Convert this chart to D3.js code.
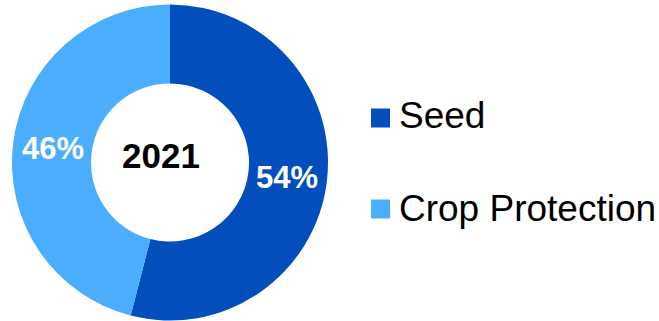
<!DOCTYPE html>
<html><head><meta charset="utf-8">
<script src="https://cdn.jsdelivr.net/npm/d3@7"></script>
<style>body{margin:0;background:#fff;}svg{display:block;font-family:"Liberation Sans",Arial,sans-serif;}</style>
</head><body>
<script>
const categories = ["Seed", "Crop Protection"];
const values = [54, 46];
const labels = ["54%", "46%"];
const colors = ["#024ebd", "#4aadfe"];
const centerLabel = "2021";

const W = 659, H = 321;
const cx = 170, cy = 162.5, R = 158, r = 79;
const svg = d3.select("body").append("svg").attr("width", W).attr("height", H);
const g = svg.append("g").attr("transform", `translate(${cx},${cy})`);
const pie = d3.pie().sort(null).value(d => d)(values);
const arc = d3.arc().innerRadius(r).outerRadius(R);
const color = d3.scaleOrdinal().domain(categories).range(colors);
g.selectAll("path").data(pie).join("path")
  .attr("d", arc).attr("fill", (d, i) => color(categories[i]));
const labelArc = d3.arc().innerRadius(118).outerRadius(118);
g.selectAll("text.pct").data(pie).join("text").attr("class", "pct")
  .attr("transform", d => { const [x, y] = labelArc.centroid(d); return `translate(${x},${y})`; })
  .attr("text-anchor", "middle").attr("dy", "0.36em")
  .attr("fill", "#fff").attr("font-weight", "bold").attr("font-size", 31)
  .text((d, i) => labels[i]);
g.append("text").attr("x", -9).attr("y", -7).attr("text-anchor", "middle").attr("dy", "0.36em")
  .attr("font-weight", "bold").attr("font-size", 35).attr("fill", "#000").text(centerLabel);

const legY = d3.scalePoint().domain(categories).range([118, 209]);
const leg = svg.append("g").selectAll("g").data(categories).join("g")
  .attr("transform", d => `translate(371,${legY(d)})`);
leg.append("rect").attr("x", 0).attr("y", -9.5).attr("width", 19).attr("height", 19).attr("fill", d => color(d));
leg.append("text").attr("x", 28).attr("y", (d, i) => i === 0 ? 10 : 11.5).attr("font-size", 37).attr("fill", "#000").text(d => d);
</script>
</body></html>
